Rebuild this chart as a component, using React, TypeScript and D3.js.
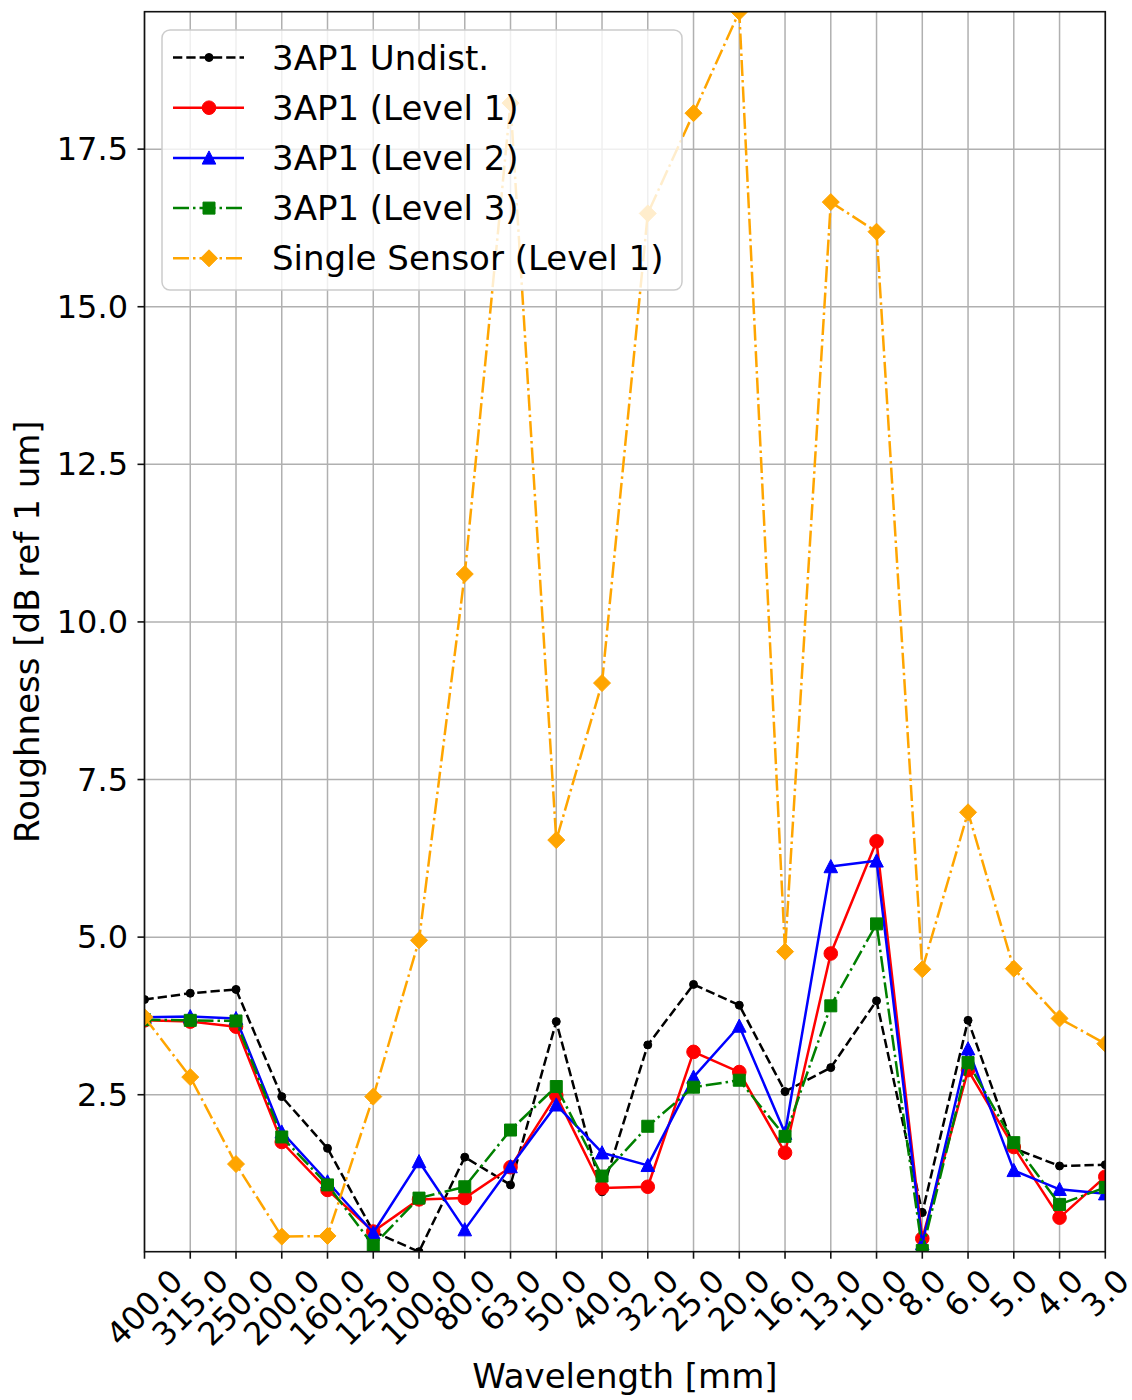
import React from "react";
import * as d3 from "d3";

// wavelength bands (x axis, categorical)
const categories = [
  "400.0", "315.0", "250.0", "200.0", "160.0", "125.0", "100.0", "80.0",
  "63.0", "50.0", "40.0", "32.0", "25.0", "20.0", "16.0", "13.0", "10.0",
  "8.0", "6.0", "5.0", "4.0", "3.0",
];

// roughness values [dB ref 1 um]
const undist = [
  4.01, 4.11, 4.17, 2.47, 1.65, 0.33, 0.01, 1.51, 1.07, 3.66, 0.96,
  3.29, 4.25, 3.92, 2.55, 2.93, 3.99, 0.63, 3.68, 1.65, 1.37, 1.39,
];
const level1 = [
  3.68, 3.66, 3.58, 1.75, 0.99, 0.33, 0.84, 0.86, 1.35, 2.49, 1.02,
  1.04, 3.18, 2.86, 1.58, 4.74, 6.52, 0.22, 2.89, 1.67, 0.55, 1.2,
];
const level2 = [
  3.73, 3.74, 3.71, 1.91, 1.12, 0.31, 1.44, 0.36, 1.36, 2.34, 1.58,
  1.38, 2.78, 3.59, 1.89, 6.12, 6.21, 0.14, 3.23, 1.3, 1.0, 0.93,
];
const level3 = [
  3.69, 3.68, 3.67, 1.83, 1.07, 0.11, 0.86, 1.04, 1.94, 2.63, 1.21,
  2.0, 2.62, 2.73, 1.84, 3.91, 5.21, 0.03, 3.01, 1.74, 0.76, 1.03,
];
const singleSensor = [
  3.73, 2.78, 1.4, 0.25, 0.26, 2.47, 4.95, 10.76, 18.23, 6.54, 9.03,
  16.48, 18.07, 19.68, 4.77, 16.66, 16.19, 4.49, 6.98, 4.5, 3.71, 3.31,
];

const yTicks = [2.5, 5.0, 7.5, 10.0, 12.5, 15.0, 17.5];

const W = 1132;
const H = 1400;
const plot = { left: 144.5, right: 1105.3, top: 11.7, bottom: 1251.7 };
const FONT = "'DejaVu Sans', 'Liberation Sans', sans-serif";
const TICK_FS = 32;
const LABEL_FS = 34;

type Marker = "dot" | "circle" | "triangle" | "square" | "diamond";

function markerPath(m: Marker): string {
  switch (m) {
    case "dot":
      return "M-4,0A4,4 0 1,0 4,0A4,4 0 1,0 -4,0Z";
    case "circle":
      return "M-6.8,0A6.8,6.8 0 1,0 6.8,0A6.8,6.8 0 1,0 -6.8,0Z";
    case "triangle":
      return "M0,-7L-6.8,6.2L6.8,6.2Z";
    case "square":
      return "M-6,-6L6,-6L6,6L-6,6Z";
    case "diamond":
      return "M0,-8.5L8.5,0L0,8.5L-8.5,0Z";
  }
}

const series = [
  { name: "3AP1 Undist.", values: undist, color: "#000000", dash: "9.3,4", marker: "dot" as Marker },
  { name: "3AP1 (Level 1)", values: level1, color: "#ff0000", dash: "", marker: "circle" as Marker },
  { name: "3AP1 (Level 2)", values: level2, color: "#0000ff", dash: "", marker: "triangle" as Marker },
  { name: "3AP1 (Level 3)", values: level3, color: "#008000", dash: "16,4,2.5,4", marker: "square" as Marker },
  { name: "Single Sensor (Level 1)", values: singleSensor, color: "#ffa500", dash: "16,4,2.5,4", marker: "diamond" as Marker },
];

export default function App() {
  const x = d3.scalePoint<string>().domain(categories).range([plot.left, plot.right]);
  const all = series.flatMap((s) => s.values);
  const [yMin, yMax] = d3.extent(all) as [number, number];
  const y = d3.scaleLinear().domain([yMin, yMax]).range([plot.bottom, plot.top]);

  const line = d3
    .line<number>()
    .x((_, i) => x(categories[i]) as number)
    .y((d) => y(d));

  // legend geometry
  const lg = { x: 162, y: 30, w: 520, h: 260 };
  const rowY = (i: number) => 57.5 + i * 50.2;

  return (
    <svg
      width={W}
      height={H}
      style={{ position: "absolute", left: 0, top: 0, background: "#fff" }}
      fontFamily={FONT}
    >
      <defs>
        <clipPath id="plotClip">
          <rect x={plot.left} y={plot.top} width={plot.right - plot.left} height={plot.bottom - plot.top} />
        </clipPath>
      </defs>
      <rect x={0} y={0} width={W} height={H} fill="#fff" />

      {/* grid */}
      <g stroke="#b0b0b0" strokeWidth={1.5}>
        {categories.map((c) => (
          <line key={c} x1={x(c)} x2={x(c)} y1={plot.top} y2={plot.bottom} />
        ))}
        {yTicks.map((t) => (
          <line key={t} x1={plot.left} x2={plot.right} y1={y(t)} y2={y(t)} />
        ))}
      </g>

      {/* series */}
      <g clipPath="url(#plotClip)">
        {series.map((s) => (
          <g key={s.name}>
            <path
              d={line(s.values) as string}
              fill="none"
              stroke={s.color}
              strokeWidth={2.5}
              strokeDasharray={s.dash || undefined}
              strokeLinejoin="round"
            />
            {s.values.map((v, i) => (
              <path
                key={i}
                d={markerPath(s.marker)}
                transform={`translate(${x(categories[i])},${y(v)})`}
                fill={s.color}
                stroke={s.color}
                strokeWidth={1}
              />
            ))}
          </g>
        ))}
      </g>

      {/* frame */}
      <rect
        x={plot.left}
        y={plot.top}
        width={plot.right - plot.left}
        height={plot.bottom - plot.top}
        fill="none"
        stroke="#111"
        strokeWidth={1.6}
      />

      {/* y axis ticks */}
      <g>
        {yTicks.map((t) => (
          <g key={t}>
            <line x1={plot.left - 7} x2={plot.left} y1={y(t)} y2={y(t)} stroke="#111" strokeWidth={1.6} />
            <text
              x={128}
              y={y(t)}
              textAnchor="end"
              dominantBaseline="central"
              fontSize={TICK_FS}
              fill="#000"
            >
              {t.toFixed(1)}
            </text>
          </g>
        ))}
      </g>

      {/* x axis ticks, labels rotated 45 deg and centred on the tick */}
      <g>
        {categories.map((c) => {
          const px = x(c) as number;
          const w = [...c].reduce((a, ch) => a + (ch === "." ? 0.318 : 0.636), 0) * TICK_FS;
          const h = TICK_FS * 1.17;
          const bh = (w + h) * Math.SQRT1_2;
          const cy = 1262 + bh / 2;
          return (
            <g key={c}>
              <line x1={px} x2={px} y1={plot.bottom} y2={plot.bottom + 7} stroke="#111" strokeWidth={1.6} />
              <text
                transform={`translate(${px},${cy}) rotate(-45)`}
                textAnchor="middle"
                dominantBaseline="central"
                fontSize={TICK_FS}
                fill="#000"
              >
                {c}
              </text>
            </g>
          );
        })}
      </g>

      {/* axis labels */}
      <text
        x={(plot.left + plot.right) / 2}
        y={1388}
        textAnchor="middle"
        fontSize={LABEL_FS}
        fill="#000"
      >
        Wavelength [mm]
      </text>
      <text
        transform={`translate(27,${(plot.top + plot.bottom) / 2}) rotate(-90)`}
        textAnchor="middle"
        dominantBaseline="central"
        fontSize={LABEL_FS}
        fill="#000"
      >
        Roughness [dB ref 1 um]
      </text>

      {/* legend */}
      <g>
        <rect
          x={lg.x}
          y={lg.y}
          width={lg.w}
          height={lg.h}
          rx={8}
          fill="#fff"
          fillOpacity={0.8}
          stroke="#cccccc"
          strokeWidth={1.5}
        />
        {series.map((s, i) => (
          <g key={s.name}>
            <line
              x1={173}
              x2={244}
              y1={rowY(i)}
              y2={rowY(i)}
              stroke={s.color}
              strokeWidth={2.5}
              strokeDasharray={s.dash || undefined}
            />
            <path
              d={markerPath(s.marker)}
              transform={`translate(209,${rowY(i)})`}
              fill={s.color}
              stroke={s.color}
              strokeWidth={1}
            />
            <text
              x={272}
              y={rowY(i)}
              dominantBaseline="central"
              fontSize={LABEL_FS}
              fill="#000"
            >
              {s.name}
            </text>
          </g>
        ))}
      </g>
    </svg>
  );
}
